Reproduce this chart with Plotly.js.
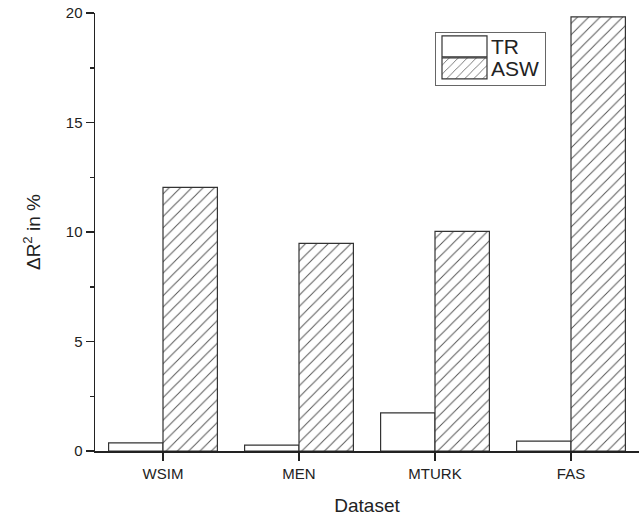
<!DOCTYPE html>
<html>
<head>
<meta charset="utf-8">
<script src="https://cdn.plot.ly/plotly-3.0.1.min.js"></script>
<style>html,body{margin:0;padding:0;background:#fff;}#chart{width:640px;height:517px;}</style>
</head>
<body>
<div id="chart"></div>
<script>
const categories = ["WSIM", "MEN", "MTURK", "FAS"];
const trValues = [0.37, 0.27, 1.74, 0.45];
const aswValues = [12.04, 9.48, 10.03, 19.82];
const seriesNames = ["TR", "ASW"];
const yTickVals = [0, 5, 10, 15, 20];

const font = "Liberation Sans, Arial, sans-serif";
const traces = [
  {
    type: "bar", name: seriesNames[0], x: categories, y: trValues,
    marker: {color: "#ffffff", line: {color: "#333333", width: 1.2}}
  },
  {
    type: "bar", name: seriesNames[1], x: categories, y: aswValues,
    marker: {color: "#ffffff", line: {color: "#333333", width: 1.2},
      pattern: {shape: "/", size: 8, solidity: 0.12, fgcolor: "#555555", bgcolor: "#ffffff"}}
  }
];
const layout = {
  width: 640, height: 517,
  margin: {l: 95, r: 1, t: 13, b: 66},
  paper_bgcolor: "#fff", plot_bgcolor: "#fff",
  font: {family: font, color: "#222"},
  barmode: "group", bargap: 0.2, bargroupgap: 0,
  showlegend: true,
  legend: {x: 0.625, y: 0.957, xanchor: "left", yanchor: "top",
    bordercolor: "#666", borderwidth: 1, bgcolor: "#fff",
    font: {size: 19, family: font, color: "#222"}, itemwidth: 50, tracegroupgap: 0,
    traceorder: "normal"},
  xaxis: {
    type: "category", range: [-0.5, 3.5], showline: true, linecolor: "#222", linewidth: 1.5,
    ticks: "outside", ticklen: 8, tickcolor: "#222", tickwidth: 1.5,
    tickfont: {size: 15, family: font, color: "#222"},
    showgrid: false, zeroline: false,
    title: {text: "Dataset", font: {size: 19, family: font, color: "#222"}, standoff: 18}
  },
  yaxis: {
    range: [0, 20], tickvals: yTickVals, ticktext: yTickVals.map(String),
    showline: true, linecolor: "#222", linewidth: 1.5,
    ticks: "outside", ticklen: 8, tickcolor: "#222", tickwidth: 1.5,
    minor: {ticks: "outside", dtick: 2.5, ticklen: 4, tickcolor: "#222", tickwidth: 1.5},
    tickfont: {size: 15, family: font, color: "#222"},
    showgrid: false, zeroline: false,
    title: {text: "\u0394R<sup>2</sup> in %", font: {size: 19, family: font, color: "#222"}, standoff: 20}
  }
};
Plotly.newPlot("chart", traces, layout, {displayModeBar: false, staticPlot: true}).then(function(gd){
  const items = gd.querySelectorAll(".legend .traces");
  items.forEach(function(t, i){
    const tr = t.getAttribute("transform") || "translate(0,0)";
    const m = tr.match(/translate\(\s*([-\d.]+)[ ,]+([-\d.]+)\s*\)/);
    const x = m ? parseFloat(m[1]) : 0;
    t.setAttribute("transform", "translate(" + x + "," + (14.5 + 22 * i) + ")");
    const txt = t.querySelector("text.legendtext");
    if (txt) {
      txt.style.fontSize = "21px";
      const tx = parseFloat(txt.getAttribute("x") || "0");
      txt.setAttribute("x", tx - 5);
    }
  });
  gd.querySelectorAll(".legend .legendpoints path").forEach(function(p){
    p.setAttribute("d", "M-24,-10.5H21V10.5H-24Z");
  });
  const bg = gd.querySelector(".legend rect.bg");
  if (bg) { bg.setAttribute("height", 53); }
});
</script>
</body>
</html>
